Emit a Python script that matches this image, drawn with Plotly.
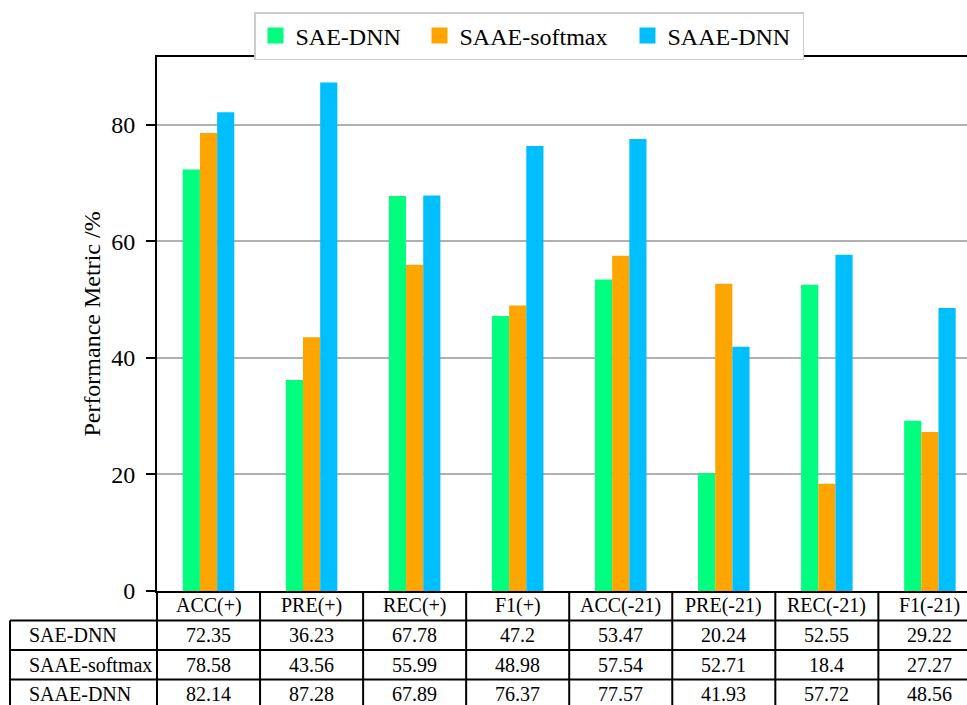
import plotly.graph_objects as go

# Metric categories and per-model scores (%)
categories = ["ACC(+)", "PRE(+)", "REC(+)", "F1(+)",
              "ACC(-21)", "PRE(-21)", "REC(-21)", "F1(-21)"]
sae_dnn = [72.35, 36.23, 67.78, 47.2, 53.47, 20.24, 52.55, 29.22]
saae_softmax = [78.58, 43.56, 55.99, 48.98, 57.54, 52.71, 18.4, 27.27]
saae_dnn = [82.14, 87.28, 67.89, 76.37, 77.57, 41.93, 57.72, 48.56]
y_ticks = [0, 20, 40, 60, 80]

series = [
    ("SAE-DNN", sae_dnn, "#00FF7F"),
    ("SAAE-softmax", saae_softmax, "#FFA500"),
    ("SAAE-DNN", saae_dnn, "#00BFFF"),
]
legend_widths = [119, 163, 130]  # px reserved for each legend label

# Figure geometry (pixels)
W, H = 967, 705
PLOT_L, PLOT_T, PLOT_B = 157, 57, 591
ROW_H = 29.5
LABEL_COL_L = 10
FONT = "Liberation Serif"


def paper_y(p):
    return (PLOT_B - p) / (PLOT_B - PLOT_T)


def paper_x(p):
    return (p - PLOT_L) / (W - PLOT_L)


fig = go.Figure()
for (name, vals, color), lw in zip(series, legend_widths):
    fig.add_trace(go.Bar(x=list(range(len(categories))), y=vals, name=name,
                         marker=dict(color=color, line=dict(width=0)),
                         showlegend=False))
    # legend swatch
    fig.add_trace(go.Scatter(x=[None], y=[None], mode="markers", name=name,
                             legendwidth=lw,
                             marker=dict(symbol="square", size=18, color=color,
                                         line=dict(width=0))))

# ---- table under the axes ----
shapes = []
annotations = []
line_style = dict(color="black", width=2)
row_edges = [PLOT_B + ROW_H * k for k in range(5)]  # header + 3 rows
table_bottom = row_edges[-1]

# horizontal borders below the header
for p in row_edges[1:]:
    shapes.append(dict(type="line", xref="paper", yref="paper",
                       x0=paper_x(LABEL_COL_L), x1=1.0,
                       y0=paper_y(p), y1=paper_y(p), line=line_style))
# left border of the row-label column
shapes.append(dict(type="line", xref="paper", yref="paper",
                   x0=paper_x(LABEL_COL_L), x1=paper_x(LABEL_COL_L),
                   y0=paper_y(row_edges[1]), y1=paper_y(table_bottom),
                   line=line_style))
# left border of the data columns
shapes.append(dict(type="line", xref="paper", yref="paper",
                   x0=0, x1=0, y0=paper_y(PLOT_B), y1=paper_y(table_bottom),
                   line=line_style))
# column separators between categories
for k in range(len(categories)):
    shapes.append(dict(type="line", xref="x", yref="paper",
                       x0=k + 0.5, x1=k + 0.5,
                       y0=paper_y(PLOT_B), y1=paper_y(table_bottom),
                       line=line_style))

# header cells
for i, c in enumerate(categories):
    annotations.append(dict(x=i, xref="x", y=paper_y(PLOT_B + ROW_H / 2),
                            yref="paper", text=c, showarrow=False,
                            xanchor="center", yanchor="middle",
                            font=dict(size=20, color="black", family=FONT)))
# data rows
for r, (name, vals, _) in enumerate(series):
    yc = paper_y(PLOT_B + ROW_H * (r + 1.5))
    annotations.append(dict(x=paper_x(27), xref="paper", y=yc, yref="paper",
                            text=name, showarrow=False, xanchor="left",
                            yanchor="middle",
                            font=dict(size=20, color="black", family=FONT)))
    for i, v in enumerate(vals):
        annotations.append(dict(x=i, xref="x", y=yc, yref="paper",
                                text=str(v), showarrow=False,
                                xanchor="center", yanchor="middle",
                                font=dict(size=20, color="black", family=FONT)))

fig.update_layout(
    width=W, height=H,
    margin=dict(l=PLOT_L, r=0, t=PLOT_T, b=H - PLOT_B, pad=0),
    paper_bgcolor="white", plot_bgcolor="white",
    font=dict(family=FONT, size=24, color="black"),
    barmode="group", bargap=0.5, bargroupgap=0,
    showlegend=True,
    legend=dict(orientation="h", x=paper_x(254), y=paper_y(12),
                xanchor="left", yanchor="top",
                font=dict(size=24, family=FONT, color="black"),
                bgcolor="white", bordercolor="#cccccc", borderwidth=1.5,
                itemsizing="trace"),
    shapes=shapes,
    annotations=annotations,
)
fig.update_xaxes(range=[-0.5, 7.36], showticklabels=False, ticks="",
                 showgrid=False, zeroline=False, showline=True,
                 linecolor="black", linewidth=2, mirror=True)
fig.update_yaxes(range=[0, 91.64], tickvals=y_ticks, ticks="outside",
                 ticklen=9, tickwidth=2, tickcolor="black",
                 ticklabelstandoff=6,
                 showgrid=True, gridcolor="#b0b0b0", gridwidth=1.8,
                 zeroline=False, showline=True, linecolor="black",
                 linewidth=2,
                 title=dict(text="Performance Metric /%", standoff=4,
                            font=dict(size=24, family=FONT)),
                 tickfont=dict(size=24, family=FONT))

fig.write_html("out.html")
